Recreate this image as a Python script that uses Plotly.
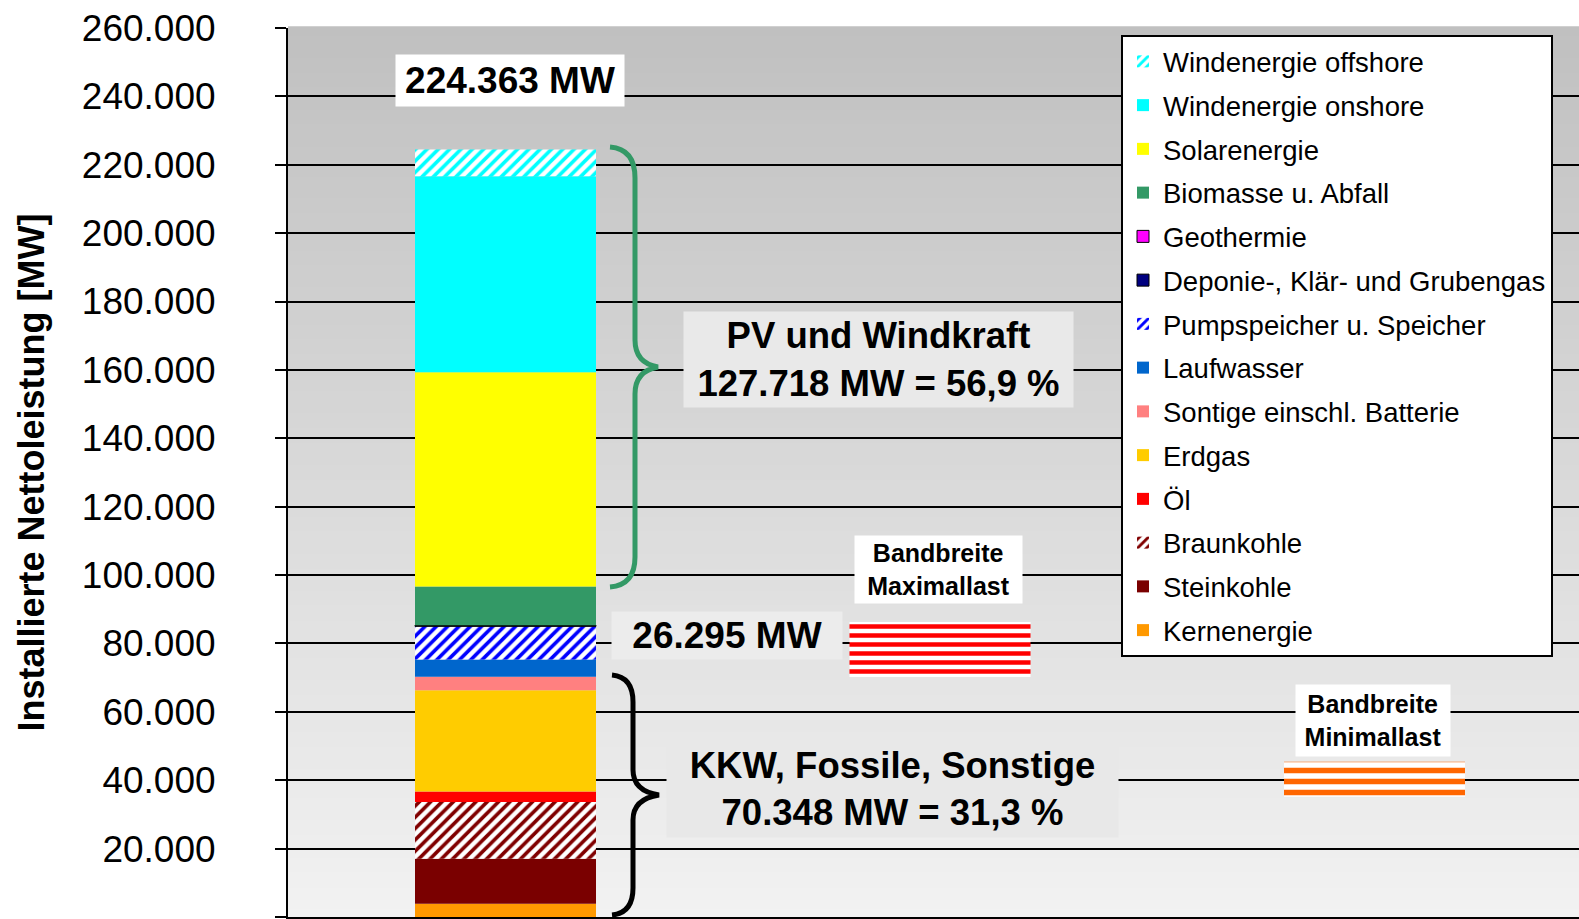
import numpy as np
import plotly.graph_objects as go

# ---------------- data ----------------
categories = [
    "Kernenergie", "Steinkohle", "Braunkohle", "Öl", "Erdgas",
    "Sontige einschl. Batterie", "Laufwasser", "Pumpspeicher u. Speicher",
    "Deponie-, Klär- und Grubengas", "Geothermie", "Biomasse u. Abfall",
    "Solarenergie", "Windenergie onshore", "Windenergie offshore",
]
values_mw = [3900, 13100, 16600, 3100, 29600, 4000, 5000, 9700, 300, 50,
             11300, 62700, 57300, 7800]
colors = ["#FF9900", "#7A0000", "#800000", "#FF0000", "#FFCC00", "#FF8080",
          "#0066CC", "#0000FF", "#000080", "#FF00FF", "#339966", "#FFFF00",
          "#00FFFF", "#00FFFF"]
hatched = [False, False, True, False, False, False, False, True, False, False,
           False, False, False, True]
outlined = [False, False, False, False, False, False, False, False, True, True,
            False, False, False, False]

band_names = ["Bandbreite Maximallast", "Bandbreite Minimallast"]
band_low = [70200, 35200]
band_high = [86300, 45400]
band_colors = ["#FF0000", "#FF6600"]

tick_vals = list(range(0, 260001, 20000))
tick_text = ["-", "20.000", "40.000", "60.000", "80.000", "100.000", "120.000",
             "140.000", "160.000", "180.000", "200.000", "220.000", "240.000",
             "260.000"]

label_total = "224.363 MW"
label_pv = "PV und Windkraft<br>127.718 MW = 56,9 %"
label_mid = "26.295 MW"
label_fossil = "KKW, Fossile, Sonstige<br>70.348 MW = 31,3 %"

# ---------------- layout helpers ----------------
W, H = 1579, 919
ML, MT, MB = 288, 28, 2
PW = W - ML
PH = H - MT - MB
YMAX = 260000


def px_x(px):
    return (px - ML) / PW


def px_y(py):
    return (H - MB - py) * YMAX / PH


FONT = "Liberation Sans, Arial, sans-serif"

fig = go.Figure()

bases = np.concatenate([[0], np.cumsum(values_mw)[:-1]])
BAR_X = px_x(505.5)
BAR_W = 181 / PW
n = len(categories)
for i, (name, v, b, c, h, o) in enumerate(zip(categories, values_mw, bases, colors, hatched, outlined)):
    marker = dict(color=c, line=dict(width=1 if o else 0, color="black"))
    if h:
        marker = dict(color="white", line=dict(width=0),
                      pattern=dict(shape="/", fgcolor=c, bgcolor="white",
                                   size=8, solidity=0.45, fillmode="replace"))
    fig.add_trace(go.Bar(
        x=[BAR_X], y=[v], base=[b], width=[BAR_W], name=name,
        marker=marker, legendgroup=name, legendrank=100 + n - i,
    ))

band_x = [px_x(940), px_x(1374.5)]
band_sizes = [9, 11]
for name, lo, hi, c, bx, s in zip(band_names, band_low, band_high, band_colors, band_x, band_sizes):
    fig.add_trace(go.Bar(
        x=[bx], y=[hi - lo], base=[lo], width=[BAR_W], name=name,
        showlegend=False,
        marker=dict(color="white", line=dict(width=0),
                    pattern=dict(shape="-", fgcolor=c, bgcolor="white",
                                 size=s, solidity=0.5, fillmode="replace")),
    ))

# background gradient
shapes = []
N = 120
for i in range(N):
    t = (i + 0.5) / N
    g = int(round(242 - (242 - 192) * t))
    shapes.append(dict(type="rect", xref="paper", yref="paper",
                       x0=0, x1=1, y0=i / N, y1=(i + 1) / N + 0.002,
                       fillcolor=f"rgb({g},{g},{g})", line=dict(width=0),
                       layer="below"))


def brace_path(pts):
    out = []
    for cmd, coords in pts:
        vals = [f"{px_x(a)},{px_y(b)}" for (a, b) in coords]
        out.append(cmd + " " + " ".join(vals))
    return " ".join(out)


green = brace_path([
    ("M", [(610, 147)]), ("Q", [(635, 149), (635, 178)]), ("L", [(635, 340)]),
    ("Q", [(635, 363), (658, 367)]), ("Q", [(635, 371), (635, 394)]),
    ("L", [(635, 557)]), ("Q", [(635, 585), (610, 587)]),
])
black = brace_path([
    ("M", [(612, 675)]), ("Q", [(633, 677), (633, 702)]), ("L", [(633, 770)]),
    ("Q", [(633, 791), (659, 795)]), ("Q", [(633, 799), (633, 820)]),
    ("L", [(633, 888)]), ("Q", [(633, 913), (612, 915)]),
])
shapes.append(dict(type="path", path=green, xref="x", yref="y",
                   line=dict(color="#339966", width=5), layer="above"))
shapes.append(dict(type="path", path=black, xref="x", yref="y",
                   line=dict(color="black", width=5), layer="above"))

annos = []


def box(text, cx, cy, w, h, size, bg):
    annos.append(dict(text=f"<b>{text}</b>", x=px_x(cx), y=px_y(cy),
                      xref="x", yref="y", showarrow=False,
                      width=w, height=h, bgcolor=bg, borderpad=0,
                      font=dict(family=FONT, size=size, color="black"),
                      align="center", valign="middle"))


box(label_total, 510, 80, 228, 51, 37, "white")
box(label_pv, 878.5, 359.5, 389, 95, 36.5, "#e9e9e9")
box(label_mid, 727, 635.5, 230, 47, 37, "#ececec")
box(label_fossil, 892.5, 789, 451, 96, 36.5, "#e8e8e8")
box(band_names[0].replace(" ", "<br>"), 938.5, 569.5, 167, 67, 25, "white")
box(band_names[1].replace(" ", "<br>"), 1373, 720.5, 154, 71, 25, "white")

fig.update_layout(
    width=W, height=H,
    margin=dict(l=ML, r=0, t=MT, b=MB, autoexpand=False),
    paper_bgcolor="white", plot_bgcolor="#d9d9d9",
    barmode="overlay",
    showlegend=True,
    legend=dict(x=px_x(1121), y=1 - (35 - MT) / PH, xanchor="left", yanchor="top",
                bgcolor="white", bordercolor="black", borderwidth=2,
                font=dict(family=FONT, size=27.5, color="black"),
                traceorder="grouped", tracegroupgap=5),
    shapes=shapes, annotations=annos,
    font=dict(family=FONT, color="black"),
)
fig.update_xaxes(range=[0, 1], showticklabels=False, showgrid=False,
                 zeroline=False, showline=True, linecolor="black", linewidth=2,
                 ticks="", fixedrange=True)
fig.update_yaxes(range=[0, YMAX], tickvals=tick_vals, ticktext=tick_text,
                 tickfont=dict(family=FONT, size=37, color="black"),
                 ticks="outside", ticklen=11, tickwidth=2, tickcolor="black",
                 ticklabelstandoff=52,
                 showgrid=True, gridcolor="black", gridwidth=1.5,
                 zeroline=False, showline=True, linecolor="black", linewidth=2,
                 title=dict(text="<b>Installierte Nettoleistung [MW]</b>",
                            font=dict(family=FONT, size=36, color="black"),
                            standoff=26),
                 automargin=False)

fig.write_html("out.html",
               config={"displayModeBar": False},
               post_script="document.body.style.margin='0';"
                           "document.body.style.overflow='hidden';")
